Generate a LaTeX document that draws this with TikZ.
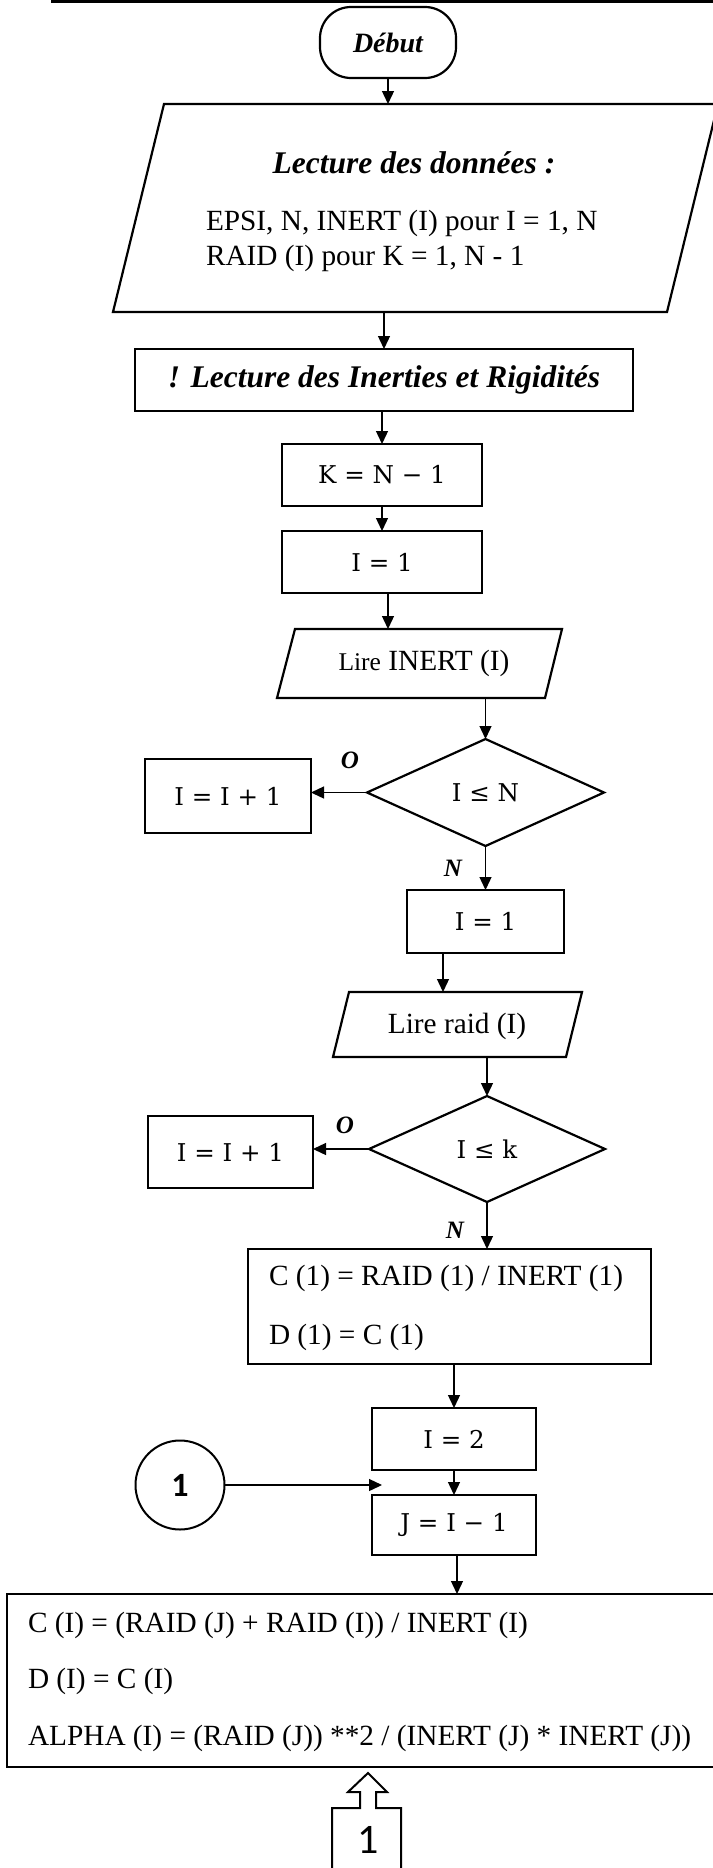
\documentclass[tikz,border=0pt]{standalone}
\usepackage{fontspec}
\setmainfont{Liberation Serif}
\newfontfamily\connfont{Carlito}
\newfontfamily\eqfont{DejaVu Serif}
\usetikzlibrary{arrows.meta,shapes.geometric}

\tikzset{
  every node/.style={inner sep=0pt, outer sep=0pt},
  boxline/.style={draw, line width=2.2pt},
  flow/.style={line width=1.3pt, -{Triangle[length=13pt,width=12pt]}},
  bodytext/.style={font=\fontsize{29.3}{35}\selectfont},
  titletext/.style={font=\fontsize{31.5}{38}\selectfont\bfseries\itshape},
  eqtext/.style={font=\eqfont\fontsize{24.5}{30}\selectfont},
  branch/.style={font=\fontsize{25}{30}\selectfont\bfseries\itshape},
}

\begin{document}
\begin{tikzpicture}[x=1pt,y=-1pt]
\useasboundingbox (0,0) rectangle (712,1868);
\fill[white] (0,0) rectangle (712,1868);

% rule across the top
\draw[line width=3pt] (51,1.5) -- (714,1.5);

% start
\node[boxline, rounded corners=31pt, minimum width=136, minimum height=71,
      font=\fontsize{28}{34}\selectfont\bfseries\itshape] (start) at (388,42.5) {Début};

% data input
\node[minimum width=503, minimum height=208] (p1) at (415.5,208) {};
\draw[boxline] (164,104) -- (718,104) -- (667,312) -- (113,312) -- cycle;
\node[titletext] (p1title) at (414,163) {Lecture des données :};
\node[anchor=west, align=left, font=\fontsize{29.3}{35}\selectfont] (p1body) at (206,241)
  {EPSI, N, INERT (I) pour I = 1, N\\RAID (I) pour K = 1, N - 1};
\draw[flow] (start.south) -- (start.south |- p1.north);

% comment box
\node[boxline, minimum width=498, minimum height=62, titletext] (lect) at (384,380)
  {! Lecture des Inerties et Rigidités};
\draw[flow] (lect.north |- p1.south) -- (lect.north);

\node[boxline, minimum width=200, minimum height=62, eqtext] (k) at (382,475)
  {K = N − 1};
\draw[flow] (k.north |- lect.south) -- (k.north);

\node[boxline, minimum width=200, minimum height=62, eqtext] (i1) at (382,562)
  {I = 1};
\draw[flow] (i1.north |- k.south) -- (i1.north);

% read inertias
\node[minimum width=250, minimum height=69] (p2) at (420,663.5) {};
\draw[boxline] (295,629) -- (562,629) -- (545,698) -- (277,698) -- cycle;
\node[bodytext] (p2txt) at (424,663) {{\fontsize{25.5}{30}\selectfont Lire} INERT (I)};
\draw[flow] ([xshift=6pt]i1.south) -- ([xshift=6pt]i1.south |- p2.north);

\node[boxline, diamond, minimum width=237, minimum height=107, eqtext] (d1) at (485.5,792.5)
  {I ≤ N};
\draw[flow] (d1.north |- p2.south) -- (d1.north);

\node[boxline, minimum width=166, minimum height=74, eqtext] (inc1) at (228,796)
  {I = I + 1};
\draw[flow] (d1.west) -- (d1.west -| inc1.east);
\node[branch] (o1) at (350,760) {O};
\node[branch] (n1) at (453,868) {N};

\node[boxline, minimum width=157, minimum height=63, eqtext] (i1b) at (485.5,921.5)
  {I = 1};
\draw[flow] (d1.south) -- (i1b.north);

% read stiffnesses
\node[minimum width=220, minimum height=65] (p3) at (457.5,1024.5) {};
\draw[boxline] (349,992) -- (582,992) -- (566,1057) -- (333,1057) -- cycle;
\node[bodytext] (p3txt) at (457,1026) {Lire raid (I)};
\draw[flow] ([xshift=-42.5pt]i1b.south) -- ([xshift=-42.5pt]i1b.south |- p3.north);

\node[boxline, diamond, minimum width=236, minimum height=106, eqtext] (d2) at (487,1149)
  {I ≤ k};
\draw[flow] (d2.north |- p3.south) -- (d2.north);

\node[boxline, minimum width=165, minimum height=72, eqtext] (inc2) at (230.5,1152)
  {I = I + 1};
\draw[flow] (d2.west) -- (d2.west -| inc2.east);
\node[branch] (o2) at (345,1125) {O};
\node[branch] (n2) at (455,1230) {N};

% first coefficients
\node[boxline, minimum width=403, minimum height=115] (cbox) at (449.5,1306.5) {};
\node[anchor=west, align=left, font=\fontsize{29.3}{59}\selectfont] (ctxt) at (269,1307.5)
  {C (1) = RAID (1) / INERT (1)\\D (1) = C (1)};
\draw[flow] (d2.south) -- (d2.south |- cbox.north);

\node[boxline, minimum width=164, minimum height=62, eqtext] (i2) at (454,1439)
  {I = 2};
\draw[flow] (i2.north |- cbox.south) -- (i2.north);

\node[boxline, minimum width=164, minimum height=60, eqtext] (j) at (454,1525)
  {J = I − 1};
\draw[flow] (i2.south) -- (j.north);

% loop-back connector
\node[draw, circle, line width=2pt, minimum size=89,
      font=\connfont\fontsize{34}{40}\selectfont\bfseries] (conn) at (180,1485) {1};
\coordinate (entry) at (382,1485);
\draw[flow] (conn.east) -- (entry);

% general coefficients
\node[boxline, minimum width=709, minimum height=173] (big) at (361.5,1680.5) {};
\node[anchor=west, align=left, font=\fontsize{29.3}{56.5}\selectfont] (btxt) at (28,1681.5)
  {C (I) = (RAID (J) + RAID (I)) / INERT (I)\\D (I) = C (I)\\ALPHA (I) = (RAID (J)) **2 / (INERT (J) * INERT (J))};
\draw[flow] ([xshift=3pt]j.south) -- ([xshift=3pt]j.south |- big.north);

% off-page connector
\draw[line width=2pt, line join=miter] (332,1872) -- (332,1808) -- (360,1808) -- (360,1792)
  -- (348,1792) -- (368,1773) -- (387,1792) -- (376,1792) -- (376,1808) -- (401,1808) -- (401,1872);
\node[font=\connfont\fontsize{42}{50}\selectfont] (offp) at (368,1840) {1};
\end{tikzpicture}
\end{document}
